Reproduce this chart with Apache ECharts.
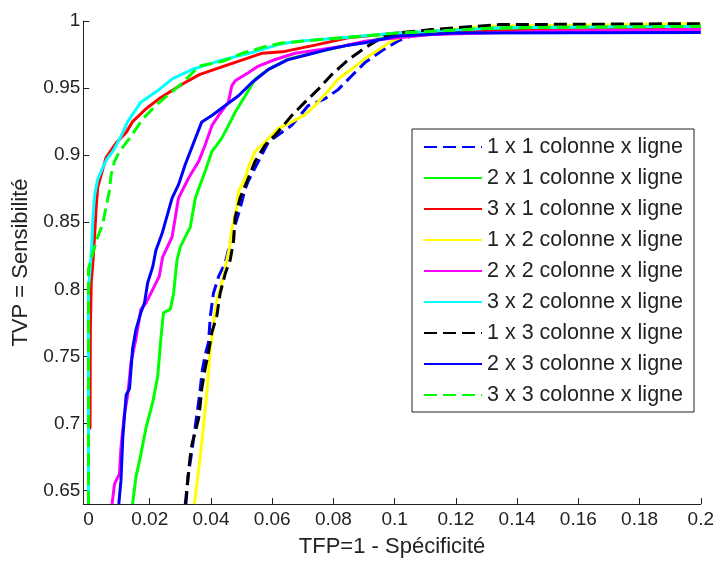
<!DOCTYPE html>
<html>
<head>
<meta charset="utf-8">
<script src="https://cdn.jsdelivr.net/npm/echarts@6/dist/echarts.min.js"></script>
<style>
html,body{margin:0;padding:0;background:#fff;}
#chart{width:717px;height:563px;}
</style>
</head>
<body>
<div id="chart"></div>
<script>
// Tick values
const xTicks = [0, 0.02, 0.04, 0.06, 0.08, 0.1, 0.12, 0.14, 0.16, 0.18, 0.2];
const yTicks = [0.65, 0.7, 0.75, 0.8, 0.85, 0.9, 0.95, 1];

// Series names
const names = [
  '1 x 1 colonne x ligne', '2 x 1 colonne x ligne', '3 x 1 colonne x ligne',
  '1 x 2 colonne x ligne', '2 x 2 colonne x ligne', '3 x 2 colonne x ligne',
  '1 x 3 colonne x ligne', '2 x 3 colonne x ligne', '3 x 3 colonne x ligne'
];

// ROC curves [TFP, TVP]
const roc1x1 = [[0.0316,0.64],[0.0325,0.66],[0.0338,0.68],[0.035,0.70],[0.0362,0.72],[0.0372,0.74],[0.0381,0.751],[0.0392,0.7605],[0.0398,0.78],[0.0408,0.797],[0.0425,0.8096],[0.0447,0.82],[0.0468,0.84],[0.0495,0.86],[0.0512,0.875],[0.0522,0.8807],[0.0555,0.8954],[0.0588,0.91],[0.0664,0.9223],[0.0718,0.937],[0.0772,0.942],[0.0816,0.949],[0.0859,0.959],[0.0903,0.969],[0.0957,0.9777],[0.101,0.985],[0.1066,0.99],[0.12,0.993],[0.15,0.996],[0.2,0.997]];
const roc2x1 = [[0.0144,0.64],[0.0155,0.66],[0.0171,0.677],[0.0188,0.697],[0.021,0.716],[0.0226,0.735],[0.0237,0.765],[0.0245,0.7826],[0.0267,0.785],[0.0278,0.797],[0.0289,0.8218],[0.03,0.8316],[0.0321,0.8414],[0.0332,0.846],[0.0349,0.868],[0.0381,0.888],[0.0403,0.9027],[0.0435,0.9125],[0.0457,0.922],[0.0479,0.932],[0.0512,0.9443],[0.0544,0.9566],[0.0588,0.964],[0.065,0.9715],[0.075,0.977],[0.085,0.982],[0.1,0.989],[0.13,0.993],[0.2,0.995]];
const roc3x1 = [[0,0.64],[0,0.695],[0.0005,0.697],[0.0006,0.77],[0.0009,0.805],[0.0014,0.819],[0.002,0.84],[0.0025,0.861],[0.003,0.876],[0.0057,0.898],[0.009,0.909],[0.0123,0.917],[0.0144,0.925],[0.0188,0.9346],[0.023,0.942],[0.0307,0.953],[0.0362,0.96],[0.0438,0.966],[0.0503,0.971],[0.0568,0.976],[0.0633,0.977],[0.074,0.982],[0.0848,0.9875],[0.101,0.991],[0.166,0.9936],[0.2,0.995]];
const roc1x2 = [[0.0346,0.64],[0.0354,0.655],[0.0365,0.675],[0.0376,0.699],[0.0387,0.7238],[0.0392,0.7385],[0.0398,0.7557],[0.0408,0.7728],[0.0414,0.785],[0.0425,0.797],[0.0441,0.8096],[0.0452,0.8218],[0.0463,0.834],[0.0468,0.845],[0.0484,0.861],[0.049,0.873],[0.0512,0.883],[0.0522,0.891],[0.0544,0.9027],[0.0577,0.91],[0.062,0.92],[0.0664,0.9248],[0.0707,0.93],[0.074,0.937],[0.0783,0.948],[0.0816,0.957],[0.0859,0.964],[0.0903,0.972],[0.0957,0.98],[0.099,0.985],[0.1044,0.99],[0.112,0.9924],[0.13,0.996],[0.2,0.998]];
const roc2x2 = [[0.0077,0.64],[0.0085,0.655],[0.0101,0.6625],[0.0106,0.682],[0.0117,0.7066],[0.0128,0.721],[0.0139,0.746],[0.0155,0.763],[0.0171,0.785],[0.0188,0.79],[0.021,0.80],[0.0231,0.8096],[0.0242,0.824],[0.0273,0.839],[0.0294,0.868],[0.0327,0.883],[0.036,0.8954],[0.0381,0.9076],[0.0403,0.922],[0.0425,0.9296],[0.0457,0.9395],[0.0468,0.9517],[0.0479,0.9554],[0.0522,0.9615],[0.0555,0.9664],[0.061,0.9713],[0.0675,0.976],[0.076,0.9787],[0.0827,0.981],[0.0903,0.985],[0.112,0.99],[0.15,0.9924],[0.2,0.9936]];
const roc3x2 = [[0,0.64],[0,0.80],[0.0005,0.815],[0.001,0.83],[0.0015,0.855],[0.002,0.87],[0.003,0.882],[0.0045,0.89],[0.006,0.897],[0.008,0.903],[0.0106,0.914],[0.0128,0.925],[0.0171,0.9395],[0.0231,0.949],[0.0275,0.957],[0.034,0.964],[0.0438,0.971],[0.0525,0.976],[0.0623,0.9826],[0.0686,0.985],[0.08,0.987],[0.101,0.991],[0.134,0.995],[0.2,0.996]];
const roc1x3 = [[0.0318,0.64],[0.0327,0.665],[0.0332,0.675],[0.0338,0.6846],[0.0349,0.694],[0.036,0.704],[0.0365,0.714],[0.037,0.726],[0.0381,0.741],[0.0392,0.753],[0.0403,0.768],[0.0419,0.78],[0.043,0.797],[0.0447,0.812],[0.0463,0.822],[0.0474,0.8365],[0.0479,0.8537],[0.0495,0.868],[0.0522,0.883],[0.0544,0.8954],[0.0577,0.9076],[0.061,0.915],[0.0664,0.9296],[0.0707,0.9395],[0.075,0.949],[0.0794,0.96],[0.0848,0.971],[0.0903,0.98],[0.0957,0.9875],[0.101,0.991],[0.112,0.9936],[0.134,0.9973],[0.2,0.998]];
const roc2x3 = [[0.0099,0.64],[0.0106,0.6576],[0.0112,0.6895],[0.0123,0.7213],[0.0134,0.726],[0.0144,0.7557],[0.0155,0.77],[0.0171,0.7826],[0.0183,0.79],[0.0193,0.8046],[0.021,0.817],[0.022,0.829],[0.024,0.8414],[0.0273,0.868],[0.0294,0.878],[0.0316,0.893],[0.0349,0.9125],[0.037,0.9248],[0.0403,0.9296],[0.0447,0.937],[0.049,0.9443],[0.0533,0.954],[0.0588,0.964],[0.065,0.971],[0.0718,0.975],[0.078,0.9787],[0.0848,0.982],[0.0903,0.9838],[0.101,0.9888],[0.12,0.991],[0.2,0.9915]];
const roc3x3 = [[0,0.64],[0,0.815],[0.0014,0.827],[0.003,0.839],[0.0047,0.849],[0.0057,0.861],[0.0068,0.873],[0.0074,0.8855],[0.0085,0.8954],[0.0101,0.9027],[0.0134,0.9125],[0.0177,0.927],[0.022,0.937],[0.0264,0.9456],[0.0307,0.954],[0.0362,0.9664],[0.0438,0.970],[0.0503,0.976],[0.0579,0.981],[0.0633,0.9836],[0.075,0.986],[0.101,0.991],[0.134,0.995],[0.2,0.996]];

const seriesData = [roc1x1, roc2x1, roc3x1, roc1x2, roc2x2, roc3x2, roc1x3, roc2x3, roc3x3];
const colors = ['#0000ff','#00ff00','#ff0000','#ffff00','#ff00ff','#00ffff','#000000','#0000ff','#00ff00'];
const dashed = [true,false,false,false,false,false,true,false,true];

const font = 'Liberation Sans, Arial, Helvetica, sans-serif';
const chart = echarts.init(document.getElementById('chart'), null, {renderer:'canvas'});
chart.setOption({
  animation: false,
  backgroundColor: '#fff',
  grid: {left: 83.3, right: 12, top: 21, bottom: 52.5, containLabel: false},
  xAxis: {
    type: 'value', min: -0.0017, max: 0.2,
    name: 'TFP=1 - Spécificité', nameLocation: 'middle', nameGap: 32,
    nameTextStyle: {fontSize: 22, fontFamily: font, color: '#222'},
    axisLine: {show: true, onZero: false, lineStyle: {color: '#222', width: 1}},
    axisTick: {show: true, inside: true, length: 6, customValues: xTicks, lineStyle: {color: '#222'}},
    axisLabel: {fontSize: 19, fontFamily: font, color: '#222', margin: 6, customValues: xTicks},
    splitLine: {show: false}
  },
  yAxis: {
    type: 'value', min: 0.64, max: 1,
    name: 'TVP = Sensibilité', nameLocation: 'middle', nameGap: 50,
    nameTextStyle: {fontSize: 22, fontFamily: font, color: '#222'},
    axisLine: {show: true, onZero: false, lineStyle: {color: '#222', width: 1}},
    axisTick: {show: true, inside: true, length: 6, customValues: yTicks, lineStyle: {color: '#222'}},
    axisLabel: {fontSize: 19, fontFamily: font, color: '#222', margin: 3, customValues: yTicks},
    splitLine: {show: false}
  },
  legend: {
    orient: 'vertical', left: 412, top: 129,
    padding: [7, 11, 6, 11],
    itemWidth: 58, itemHeight: 14, itemGap: 9,
    borderColor: '#222', borderWidth: 1, backgroundColor: '#fff',
    itemStyle: {opacity: 0},
    textStyle: {fontSize: 21.5, lineHeight: 21, fontFamily: font, color: '#222'},
    data: names
  },
  series: seriesData.map((d, i) => ({
    name: names[i], type: 'line', data: d, symbol: 'none', showSymbol: false,
    clip: true, animation: false,
    itemStyle: {color: colors[i]},
    lineStyle: {color: colors[i], width: 3, type: dashed[i] ? [13, 6] : 'solid'}
  }))
});
</script>
</body>
</html>
